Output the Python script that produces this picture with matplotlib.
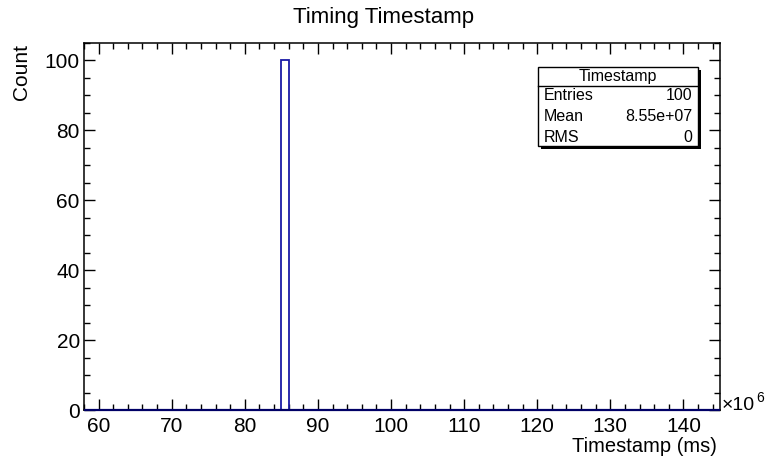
import numpy as np
import matplotlib
matplotlib.use("Agg")
import matplotlib.pyplot as plt
from matplotlib.ticker import MultipleLocator
from matplotlib.patches import Rectangle

# Histogram definition (timestamps in ms)
bin_low = 58e6
bin_high = 145e6
bin_width = 1e6
filled_bin_center = 85.5e6
filled_count = 100

title = "Timing Timestamp"
x_label = "Timestamp (ms)"
y_label = "Count"
stats_name = "Timestamp"

edges = np.arange(bin_low, bin_high + bin_width / 2, bin_width)
counts = np.zeros(len(edges) - 1)
counts[np.searchsorted(edges, filled_bin_center) - 1] = filled_count

centers = 0.5 * (edges[:-1] + edges[1:])
entries = int(counts.sum())
mean = np.sum(centers * counts) / counts.sum()
rms = np.sqrt(np.sum(counts * (centers - mean) ** 2) / counts.sum())

plt.rcParams["font.family"] = ["Liberation Sans", "DejaVu Sans"]

W, H = 768, 458
fig = plt.figure(figsize=(W / 100, H / 100), dpi=100)
ax = fig.add_axes([84 / W, 1 - 410 / H, (720 - 84) / W, (410 - 43) / H])

scale = 1e6
ax.stairs(counts, edges / scale, color="#1a1aa6", lw=1.3, zorder=4, clip_on=False)
ax.plot([bin_low / scale, bin_high / scale], [0, 0], color="#000066", lw=1.6,
        zorder=5, clip_on=False, solid_capstyle="butt")

ax.set_xlim(bin_low / scale, bin_high / scale)
ax.set_ylim(0, 1.05 * counts.max())

ax.xaxis.set_major_locator(MultipleLocator(10))
ax.xaxis.set_minor_locator(MultipleLocator(2))
ax.yaxis.set_major_locator(MultipleLocator(20))
ax.yaxis.set_minor_locator(MultipleLocator(5))
ax.tick_params(which="both", direction="in", top=True, right=True,
               labelsize=15, width=1, color="black")
ax.tick_params(which="major", length=8)
ax.tick_params(which="minor", length=4)
ax.tick_params(axis="x", pad=5)
ax.tick_params(axis="y", pad=3)
for s in ax.spines.values():
    s.set_linewidth(1.1)

fig.text(0.5, 1 - 18 / H, title, ha="center", va="center", fontsize=16)
fig.text(717 / W, 1 - 452 / H, x_label, ha="right", va="baseline", fontsize=14.5)
fig.text(22 / W, 1 - 44 / H, y_label, ha="center", va="top", rotation=90, fontsize=15)
fig.text(722 / W, 1 - 410 / H, "\u00d710", ha="left", va="baseline", fontsize=14)
fig.text(756 / W, 1 - 402 / H, "6", ha="left", va="baseline", fontsize=10)

# Statistics box with drop shadow
bx0, by0, bx1, by1 = 538, 67, 698, 146
sh = 3
fig.patches.append(Rectangle(((bx0 + sh) / W, 1 - (by1 + sh) / H), (bx1 - bx0) / W,
                             (by1 - by0) / H, transform=fig.transFigure,
                             facecolor="black", edgecolor="black", lw=0))
fig.patches.append(Rectangle((bx0 / W, 1 - by1 / H), (bx1 - bx0) / W, (by1 - by0) / H,
                             transform=fig.transFigure, facecolor="white",
                             edgecolor="black", lw=1))
sep_y = 86
fig.add_artist(plt.Line2D([bx0 / W, bx1 / W], [1 - sep_y / H, 1 - sep_y / H],
                          transform=fig.transFigure, color="black", lw=1))
fig.text((bx0 + bx1) / 2 / W, 1 - 76 / H, stats_name, ha="center", va="center", fontsize=11.5)
rows = [("Entries", f"{entries}"), ("Mean", f"{mean:.2e}"), ("RMS", f"{rms:.0f}")]
for i, (k, v) in enumerate(rows):
    yy = 1 - (95 + i * 21.5) / H
    fig.text((bx0 + 6) / W, yy, k, ha="left", va="center", fontsize=11.5)
    fig.text((bx1 - 6) / W, yy, v, ha="right", va="center", fontsize=11.5)

fig.savefig("out.png", dpi=100)
